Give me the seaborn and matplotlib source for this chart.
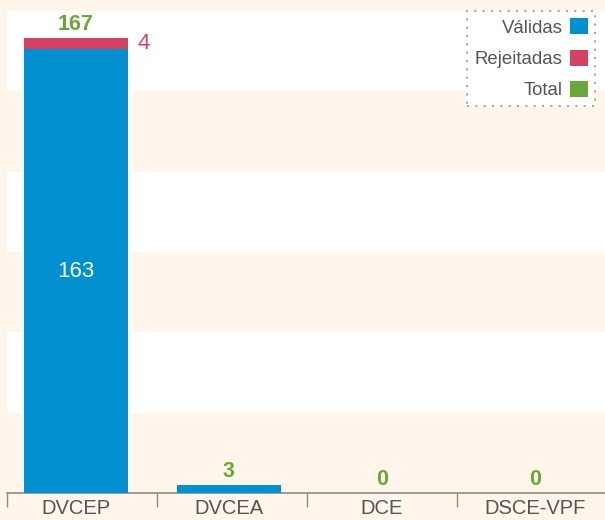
import matplotlib
matplotlib.use("Agg")
import matplotlib.pyplot as plt
from matplotlib.patches import Patch
import seaborn as sns
import numpy as np
import pandas as pd

categories = ["DVCEP", "DVCEA", "DCE", "DSCE-VPF"]
validas = [163, 3, 0, 0]
rejeitadas = [4, 0, 0, 0]
series_names = ["Válidas", "Rejeitadas", "Total"]

BLUE = "#0090d0"
RED = "#d44262"
GREEN = "#6aa73a"
CREAM = "#fff5ea"
GREY_TXT = "#555555"
AXIS_GREY = "#8c8c8c"

df = pd.DataFrame({"categoria": categories, "validas": validas, "rejeitadas": rejeitadas})
df["total"] = df["validas"] + df["rejeitadas"]

sns.set_theme(style="white")
plt.rcParams["font.family"] = ["Liberation Sans", "DejaVu Sans"]

fig = plt.figure(figsize=(6.05, 5.2), dpi=100, facecolor=CREAM)
ax = fig.add_axes([6.7 / 605, 27 / 520, 1 - 6.7 / 605, 482 / 520])
ax.set_facecolor(CREAM)

ymax = 177
bands = np.linspace(0, ymax, 7)
for i in range(1, 6, 2):
    ax.axhspan(bands[i], bands[i + 1], color="white", zorder=0, lw=0)

bar_w = 0.68
# total first (red), then the valid part on top of it (blue)
sns.barplot(data=df, x="categoria", y="total", color=RED, width=bar_w,
            linewidth=0, saturation=1, ax=ax, zorder=2)
sns.barplot(data=df, x="categoria", y="validas", color=BLUE, width=bar_w,
            linewidth=0, saturation=1, ax=ax, zorder=3)

ax.bar_label(ax.containers[0], labels=[str(v) for v in df["total"]], padding=2,
             color=GREEN, fontsize=15.5, fontweight="bold")

for i, row in df.iterrows():
    if row["rejeitadas"] > 0:
        ax.text(i + bar_w / 2 + 0.065, row["validas"] + row["rejeitadas"] / 2,
                str(row["rejeitadas"]), color=RED, fontsize=16, va="center", ha="left")
    if row["validas"] > 20:
        ax.text(i, row["validas"] / 2, str(row["validas"]), color="white",
                fontsize=16, va="center", ha="center", zorder=4)

ax.set_xlim(-0.453, 3.458)
ax.set_ylim(0, ymax)
ax.set_xlabel("")
ax.set_ylabel("")
ax.set_yticks([])

for s in ["top", "left", "right"]:
    ax.spines[s].set_visible(False)
ax.spines["bottom"].set_color(AXIS_GREY)
ax.spines["bottom"].set_linewidth(1.2)

ax.set_xticks(range(len(categories)))
ax.set_xticklabels(categories, fontsize=14.5, color=GREY_TXT)
ax.tick_params(axis="x", which="major", bottom=True, length=0, pad=4)
ax.set_xticks([-0.453, 0.527, 1.508, 2.488], minor=True)
ax.tick_params(axis="x", which="minor", bottom=True, length=10, width=1,
               color=AXIS_GREY, direction="out")

handles = [Patch(facecolor=c, edgecolor="none") for c in [BLUE, RED, GREEN]]
leg = ax.legend(handles, series_names, loc="upper right",
                bbox_to_anchor=(595 / 605, 1 - 11 / 520), bbox_transform=fig.transFigure,
                markerfirst=False, fontsize=13.4, handlelength=0.95, handleheight=0.95,
                handletextpad=0.4, labelspacing=0.68, borderpad=0.4, borderaxespad=0,
                fancybox=False, framealpha=1, facecolor="white", edgecolor="#aaaaaa")
leg.get_frame().set_linestyle((0, (1, 3)))
leg.get_frame().set_linewidth(1.5)
for t in leg.get_texts():
    t.set_color(GREY_TXT)

fig.savefig("out.png", dpi=100, facecolor=CREAM)
